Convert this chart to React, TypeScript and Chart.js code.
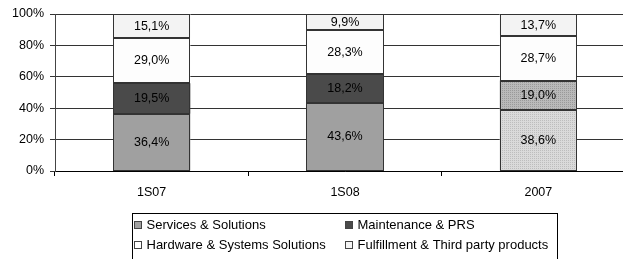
import React, { useEffect, useRef } from 'react';
import { Chart, registerables } from 'chart.js';
Chart.register(...registerables);

const FONT = '"Liberation Sans", Arial, sans-serif';

const categories = ['1S07', '1S08', '2007'];
const servicesSolutions = [36.4, 43.6, 38.6];
const maintenancePRS = [19.5, 18.2, 19.0];
const hardwareSystems = [29.0, 28.3, 28.7];
const fulfillmentThirdParty = [15.1, 9.9, 13.7];
const seriesLabels = [
  'Services & Solutions',
  'Maintenance & PRS',
  'Hardware & Systems Solutions',
  'Fulfillment & Third party products',
];

const fmt = (v: number) => v.toFixed(1).replace('.', ',') + '%';

export default function App() {
  const ref = useRef<HTMLCanvasElement>(null);
  useEffect(() => {
    const makePattern = (base: string, dot: string) => {
      const c = document.createElement('canvas');
      c.width = 2;
      c.height = 2;
      const g = c.getContext('2d')!;
      g.fillStyle = base;
      g.fillRect(0, 0, 2, 2);
      g.fillStyle = dot;
      g.fillRect(0, 0, 1, 1);
      return g.createPattern(c, 'repeat')!;
    };
    const servPat = makePattern('#dadada', '#bdbdbd');
    const maintPat = makePattern('#bababa', '#9a9a9a');

    const legendColors = ['#a0a0a0', '#4a4a4a', '#ffffff', '#f4f4f4'];

    const dataLabels = {
      id: 'dataLabels',
      afterDatasetsDraw(chart: any) {
        const ctx = chart.ctx;
        ctx.save();
        // crisp outlines for each segment
        ctx.strokeStyle = '#333';
        ctx.lineWidth = 1;
        chart.data.datasets.forEach((ds: any, di: number) => {
          const meta = chart.getDatasetMeta(di);
          meta.data.forEach((el: any) => {
            const p = el.getProps(['x', 'y', 'base', 'width'], true);
            const l = Math.round(p.x - p.width / 2) + 0.5;
            const r = Math.round(p.x + p.width / 2) - 0.5;
            const t = Math.round(Math.min(p.y, p.base)) + 0.5;
            const b = Math.round(Math.max(p.y, p.base)) - 0.5;
            ctx.strokeRect(l, t, r - l, b - t);
          });
        });
        ctx.font = `12.5px ${FONT}`;
        ctx.fillStyle = '#000';
        ctx.textAlign = 'center';
        ctx.textBaseline = 'middle';
        chart.data.datasets.forEach((ds: any, di: number) => {
          const meta = chart.getDatasetMeta(di);
          meta.data.forEach((el: any, i: number) => {
            const p = el.getProps(['x', 'y', 'base'], true);
            ctx.fillText(fmt(ds.data[i]), p.x, (p.y + p.base) / 2 + 0.5);
          });
        });
        ctx.restore();
      },
    };

    const customLegend = {
      id: 'customLegend',
      afterDraw(chart: any) {
        const ctx = chart.ctx;
        ctx.save();
        ctx.strokeStyle = '#000';
        ctx.lineWidth = 1;
        ctx.strokeRect(132.5, 213.5, 425, 60);
        ctx.font = `13px ${FONT}`;
        ctx.textBaseline = 'middle';
        ctx.textAlign = 'left';
        const cols = [134, 345];
        const rows = [225, 245];
        seriesLabels.forEach((lab, k) => {
          const x = cols[k % 2];
          const y = rows[Math.floor(k / 2)];
          ctx.fillStyle = legendColors[k];
          ctx.fillRect(x, y - 4, 8, 8);
          ctx.strokeStyle = '#444';
          ctx.strokeRect(x + 0.5, y - 3.5, 7, 7);
          ctx.fillStyle = '#000';
          ctx.fillText(lab, x + 12.5, y + 0.5);
        });
        ctx.restore();
      },
    };

    const chart = new Chart(ref.current!, {
      type: 'bar',
      data: {
        labels: categories,
        datasets: [
          {
            label: seriesLabels[0],
            data: servicesSolutions,
            backgroundColor: ['#a0a0a0', '#a0a0a0', servPat as any],
            borderWidth: 0,
          },
          {
            label: seriesLabels[1],
            data: maintenancePRS,
            backgroundColor: ['#4a4a4a', '#4a4a4a', maintPat as any],
            borderWidth: 0,
          },
          {
            label: seriesLabels[2],
            data: hardwareSystems,
            backgroundColor: '#fdfdfd',
            borderWidth: 0,
          },
          {
            label: seriesLabels[3],
            data: fulfillmentThirdParty,
            backgroundColor: '#f3f3f3',
            borderWidth: 0,
          },
        ],
      },
      options: {
        responsive: false,
        animation: false,
        devicePixelRatio: 1,
        layout: { padding: { left: 0, top: 14, right: 5, bottom: 0 } },
        datasets: { bar: { categoryPercentage: 1, barPercentage: 0.4 } },
        plugins: { legend: { display: false }, tooltip: { enabled: false } },
        scales: {
          x: {
            stacked: true,
            afterFit: (s: any) => {
              s.height = 88;
            },
            grid: {
              offset: true,
              drawOnChartArea: false,
              drawTicks: true,
              tickLength: 5,
              color: '#000',
            },
            border: { color: '#000', width: 1 },
            ticks: {
              color: '#000',
              padding: 9,
              font: { family: FONT, size: 12.5 },
            },
          },
          y: {
            stacked: true,
            min: 0,
            max: 100,
            afterFit: (s: any) => {
              s.width = 55;
            },
            grid: { color: '#333', tickLength: 5, drawTicks: true },
            border: { color: '#444', width: 1 },
            ticks: {
              stepSize: 20,
              color: '#000',
              padding: 6,
              font: { family: FONT, size: 12.5 },
              callback: (v: any) => v + '%',
            },
          },
        },
      },
      plugins: [dataLabels, customLegend],
    });
    return () => chart.destroy();
  }, []);
  return (
    <div
      style={{
        position: 'absolute',
        left: 0,
        top: 0,
        width: 623,
        height: 259,
        overflow: 'hidden',
        background: '#fff',
      }}
    >
      <canvas ref={ref} width={640} height={259} style={{ display: 'block' }} />
    </div>
  );
}
